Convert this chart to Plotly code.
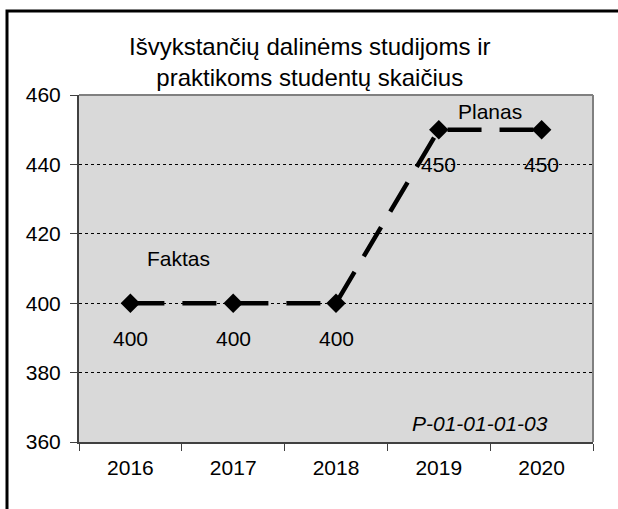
import plotly.graph_objects as go

years = ["2016", "2017", "2018", "2019", "2020"]
values = [400, 400, 400, 450, 450]
label_texts = ["400", "400", "400", "450", "450"]

W, H = 618, 509
L, R, T, B = 79, 25, 95, 67
pw, ph = W - L - R, H - T - B

def px_x(x):
    return (x - L) / pw

def px_y(y):
    return 1 - (y - T) / ph

FONT = "Liberation Sans, Arial, sans-serif"

fig = go.Figure()
fig.add_trace(go.Scatter(
    x=years, y=values, mode="lines+markers",
    line=dict(color="black", width=4.5, dash="34px,18px"),
    marker=dict(symbol="diamond", size=15, color="black"),
    cliponaxis=False, showlegend=False, hoverinfo="skip",
))

def ann(x, y, text, size=21, **kw):
    d = dict(x=x, y=y, text=text, showarrow=False, xanchor="center", yanchor="middle",
             font=dict(size=size, color="black", family=FONT))
    d.update(kw)
    return d

annotations = []
for i, (v, t) in enumerate(zip(values, label_texts)):
    annotations.append(ann(i, v, t, xref="x", yref="y", yshift=-35))
annotations += [
    ann(px_x(178), px_y(258), "Faktas", xref="paper", yref="paper"),
    ann(px_x(490), px_y(112), "Planas", xref="paper", yref="paper"),
    ann(px_x(480), px_y(423), "<i>P-01-01-01-03</i>", xref="paper", yref="paper"),
    ann(px_x(309), px_y(62), "Išvykstančių dalinėms studijoms ir<br>praktikoms studentų skaičius",
        size=24, xref="paper", yref="paper"),
]

shapes = [
    dict(type="rect", xref="paper", yref="paper",
         x0=px_x(7), x1=px_x(640), y0=px_y(540), y1=px_y(11),
         line=dict(color="black", width=3), fillcolor="rgba(0,0,0,0)", layer="below"),
    dict(type="line", xref="paper", yref="paper", x0=0, x1=1, y0=1, y1=1,
         line=dict(color="#808080", width=2)),
    dict(type="line", xref="paper", yref="paper", x0=1, x1=1, y0=0, y1=1,
         line=dict(color="#808080", width=2)),
]

fig.update_layout(
    width=W, height=H,
    margin=dict(l=L, r=R, t=T, b=B),
    paper_bgcolor="white", plot_bgcolor="#D9D9D9",
    font=dict(family=FONT, size=21, color="black"),
    annotations=annotations, shapes=shapes,
    xaxis=dict(type="category", showgrid=False, showline=True, linecolor="#404040",
               linewidth=2, ticks="outside", tickson="boundaries", ticklen=7,
               tickcolor="#404040", tickfont=dict(size=21, family=FONT),
               ticklabelstandoff=6, range=[-0.5, 4.5], fixedrange=True),
    yaxis=dict(range=[360, 460], dtick=20, showgrid=True, gridcolor="black",
               griddash="dot", gridwidth=1, showline=True, linecolor="#404040",
               linewidth=2, ticks="outside", ticklen=7, tickcolor="#404040",
               ticklabelstandoff=5,
               tickfont=dict(size=21, family=FONT), zeroline=False, fixedrange=True),
)

fig.write_html("out.html", config={"displayModeBar": False},
               post_script="document.body.style.margin='0';document.body.style.overflow='hidden';")
